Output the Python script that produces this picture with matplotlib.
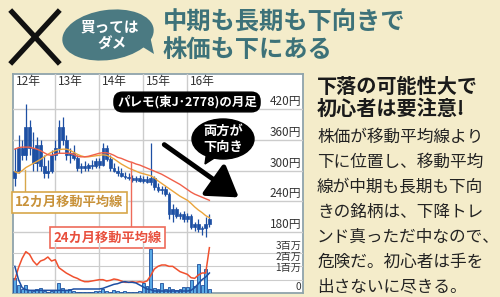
import matplotlib
matplotlib.use('Agg')
import matplotlib.pyplot as plt
from matplotlib.patches import Ellipse, Polygon, FancyArrowPatch
from matplotlib.transforms import Affine2D
import numpy as np

plt.rcParams['font.family'] = ['Noto Sans CJK JP', 'DejaVu Sans']

# ---- data (monthly, Jan 2012 - Jun 2016) ----
opens = [285, 300, 345, 330, 385, 345, 315, 350, 310, 295, 300, 330,
         345, 385, 360, 330, 335, 325, 305, 310, 305, 312, 310, 318,
         312, 345, 322, 305, 300, 295, 290, 288, 285, 282, 285, 280,
         283, 278, 285, 268, 262, 265, 255, 215, 225, 212, 215, 205,
         212, 190, 195, 185, 188, 195]
highs = [345, 370, 360, 430, 400, 375, 365, 360, 330, 320, 340, 360,
         400, 405, 370, 345, 350, 330, 315, 318, 315, 320, 325, 325,
         355, 350, 330, 315, 310, 305, 298, 295, 292, 290, 292, 290,
         290, 355, 290, 275, 270, 270, 258, 235, 228, 220, 222, 218,
         215, 200, 205, 192, 210, 215]
lows = [270, 295, 320, 320, 330, 300, 300, 300, 285, 285, 295, 320,
        335, 350, 320, 315, 320, 300, 295, 300, 300, 303, 305, 305,
        310, 318, 300, 298, 290, 288, 283, 282, 278, 278, 278, 275,
        275, 272, 262, 258, 255, 250, 205, 200, 208, 205, 200, 200,
        185, 182, 180, 175, 170, 190]
closes = [300, 345, 330, 385, 345, 315, 350, 310, 295, 300, 330, 345,
          385, 360, 330, 335, 325, 305, 310, 305, 312, 310, 318, 312,
          345, 322, 305, 300, 295, 290, 288, 285, 282, 285, 280, 283,
          278, 285, 268, 262, 265, 255, 215, 225, 212, 215, 205, 212,
          190, 195, 185, 188, 195, 205]
ma12 = [298, 295, 300, 306, 310, 314, 318, 322, 327, 332, 336, 339,
        341, 342, 342, 340, 336, 332, 329, 327, 327, 328, 329, 330,
        331, 330, 327, 323, 318, 313, 309, 305, 302, 299, 296, 294,
        292, 290, 286, 280, 275, 270, 265, 260, 255, 250, 246, 242,
        236, 229, 223, 218, 212, 208]
ma24 = [342, 345, 346, 346, 346, 344, 342, 339, 335, 331, 330, 332,
        334, 334, 334, 334, 332, 328, 327, 327, 328, 330, 332, 334,
        335, 335, 333, 330, 326, 324, 321, 318, 316, 313, 311, 308,
        305, 302, 299, 296, 293, 289, 285, 281, 277, 273, 268, 263,
        258, 254, 251, 248, 245, 242]
volume = [1.1, 0.6, 0.3, 0.6, 0.2, 0.15, 0.3, 0.35, 0.15, 0.1, 0.15, 0.2,
          0.75, 0.4, 0.2, 0.3, 0.15, 0.1, 0.1, 0.1, 0.1, 0.1, 0.15, 0.15,
          0.3, 0.15, 0.1, 0.2, 0.15, 0.1, 0.15, 0.1, 0.1, 0.1, 0.15, 0.75,
          0.5, 3.3, 0.4, 0.3, 0.75, 0.3, 0.45, 0.3, 0.2, 0.3, 0.45, 0.45,
          1.0, 0.5, 2.2, 0.6, 1.8, 0.3]
red_line = [1.0, 1.9, 2.6, 3.1, 2.9, 2.4, 2.1, 2.4, 2.5, 2.7, 2.4, 2.5,
            1.9, 1.7, 1.5, 1.35, 1.2, 1.1, 0.95, 0.85, 0.85, 0.9, 0.95, 1.0,
            1.0, 0.9, 0.95, 1.05, 1.0, 0.9, 0.8, 0.8, 0.85, 0.8, 0.85, 0.8,
            0.9, 1.3, 1.8, 2.0, 2.1, 2.1, 2.0, 2.0, 1.8, 1.6, 1.5, 1.4,
            1.15, 1.1, 1.35, 1.5, 1.5, 3.4]
blue_line = [2.0, 1.0, 0.4, 0.25, 0.2, 0.2, 0.2, 0.2, 0.2, 0.2, 0.2, 0.2,
             0.2, 0.2, 0.2, 0.2, 0.3, 0.3, 0.3, 0.3, 0.3, 0.3, 0.3, 0.3,
             0.35, 0.45, 0.55, 0.65, 0.7, 0.8, 0.85, 0.8, 0.8, 0.75, 0.6, 0.45,
             0.3, 0.25, 0.15, 0.15, 0.15, 0.15, 0.15, 0.15, 0.15, 0.15, 0.15, 0.15,
             0.2, 0.4, 0.7, 1.0, 1.2, 1.5]
year_labels = ['12年', '13年', '14年', '15年', '16年']
year_pos = [0.5, 12, 24, 36, 48]
price_ticks = [180, 240, 300, 360, 420]
vol_labels = ['3百万', '2百万', '1百万', '0']
vol_label_pos = [3.5, 2.7, 1.9, 0.45]

months = np.arange(1, len(closes) + 1)

W, H = 500, 297
fig = plt.figure(figsize=(5, 2.97), dpi=100)
fig.patch.set_facecolor('#f4ecca')
P = Affine2D().scale(1 / W, -1 / H).translate(0, 1) + fig.transFigure


def rect(x0, y0, x1, y1):
    return [x0 / W, 1 - y1 / H, (x1 - x0) / W, (y1 - y0) / H]


teal = '#3d7279'
candle_c = '#1d4fa3'
grid_c = '#cccccc'

# chart frame
frame = fig.add_axes(rect(13, 74, 303, 293))
frame.set_facecolor('white')
frame.set_xticks([])
frame.set_yticks([])
for s in frame.spines.values():
    s.set_color('#8fa3ab')
    s.set_linewidth(1.3)

ax = fig.add_axes(rect(13, 74, 303, 243))
vax = fig.add_axes(rect(13, 243, 303, 293))
for a in (ax, vax):
    a.set_facecolor('none')
    a.set_axis_off()
    a.set_xlim(0.5, 79.5)
ax.set_ylim(158.5, 489)
vax.set_ylim(0, 3.75)

# grid
for p in price_ticks:
    ax.axhline(p, color=grid_c, lw=1.0, zorder=0)
    ax.text(79, p + 2, f'{p}円', ha='right', va='bottom', fontsize=8.5, color='#333333')
for v in [1, 2, 3]:
    vax.axhline(v, color=grid_c, lw=0.8, zorder=0)
for x, lab in zip(year_pos, year_labels):
    if x > 1:
        ax.axvline(x, color=grid_c, lw=1.0, zorder=0)
        vax.axvline(x, color=grid_c, lw=1.0, zorder=0)
    ax.text(x + 0.8, 474, lab, ha='left', va='center', fontsize=8.5, color='#333333')
for y, lab in zip(vol_label_pos, vol_labels):
    vax.text(79, y, lab, ha='right', va='center', fontsize=7.3, color='#333333')

# candles
ax.vlines(months, lows, highs, color=candle_c, lw=0.9, zorder=3)
ax.bar(months, np.array(closes) - np.array(opens), bottom=opens, width=0.75,
       color=candle_c, edgecolor=candle_c, lw=0.5, zorder=3)
ax.plot(months, ma12, color='#eaa43c', lw=1.0, zorder=4)
ax.plot(months, ma24, color='#f0604a', lw=1.0, zorder=4)

# volume panel
vax.bar(months, volume, width=0.8, color='#5aaae6', edgecolor='#1c4f9c', lw=0.6, zorder=2)
vax.plot(months, red_line, color='#f0502e', lw=1.1, zorder=3)
vax.plot(months, blue_line, color='#1d4fa3', lw=1.1, zorder=3)

# MA labels with connectors
ax.plot([3.8, 3.8], [ma12[3] - 4, 258], color='#d7a74a', lw=1.0, zorder=4)
ax.text(15.9, 238, '12カ月移動平均線', ha='center', va='center', fontsize=9.5,
        fontweight='bold', color='#c8923a', zorder=6,
        bbox=dict(boxstyle='square,pad=0.25', fc='white', ec='#d7a74a', lw=1.2))
ax.plot([32.7, 32.7], [317, 185], color='#ee6b5a', lw=1.0, zorder=4)
ax.text(26.2, 169, '24カ月移動平均線', ha='center', va='center', fontsize=9.5,
        fontweight='bold', color='#e8503e', zorder=6, clip_on=False,
        bbox=dict(boxstyle='square,pad=0.25', fc='white', ec='#ee6b5a', lw=1.2))

# chart annotations
fig.text(187, 102, 'パレモ(東J･2778)の月足', transform=P, ha='center', va='center',
         fontsize=9, fontweight='bold', color='white',
         bbox=dict(boxstyle='round,pad=0.25,rounding_size=0.7', fc='black', ec='black'))
fig.add_artist(FancyArrowPatch((162, 143), (241, 199), transform=P,
                               arrowstyle='-|>,head_length=0.7,head_width=0.45',
                               mutation_scale=26, lw=3.5, color='black'))
fig.add_artist(Ellipse((223, 139), 62, 40, transform=P, fc='black', ec='black'))
fig.add_artist(Polygon([(207, 150), (219, 155), (205, 164)], closed=True,
                       transform=P, fc='black', ec='black'))
fig.text(223, 131, '両方が', transform=P, ha='center', va='center', fontsize=9.5,
         fontweight='bold', color='white')
fig.text(223, 147, '下向き', transform=P, ha='center', va='center', fontsize=9.5,
         fontweight='bold', color='white')

# header
fig.add_artist(plt.Line2D([12, 58], [12, 62], transform=P, color='#111111', lw=3.8))
fig.add_artist(plt.Line2D([58, 12], [12, 62], transform=P, color='#111111', lw=3.8))
fig.add_artist(Ellipse((108, 35), 92, 50, angle=-8, transform=P, fc='#4b7a82', ec='none'))
fig.add_artist(Polygon([(138, 44), (154, 54), (150, 36)], closed=True, transform=P,
                       fc='#4b7a82', ec='none'))
fig.text(110, 26, '買っては', transform=P, ha='center', va='center', fontsize=10.5,
         fontweight='bold', color='white')
fig.text(112, 44, 'ダメ', transform=P, ha='center', va='center', fontsize=10.5,
         fontweight='bold', color='white')
fig.text(163, 23, '中期も長期も下向きで', transform=P, ha='left', va='center',
         fontsize=17.5, fontweight='bold', color=teal)
fig.text(163, 50, '株価も下にある', transform=P, ha='left', va='center',
         fontsize=17.5, fontweight='bold', color=teal)

# right column text
fig.text(317, 86, '下落の可能性大で', transform=P, ha='left', va='center',
         fontsize=14.5, fontweight='bold', color='#1a1a1a')
fig.text(317, 108, '初心者は要注意!', transform=P, ha='left', va='center',
         fontsize=14.5, fontweight='bold', color='#1a1a1a')
body = ['株価が移動平均線より', '下に位置し、移動平均', '線が中期も長期も下向',
        'きの銘柄は、下降トレ', 'ンド真っただ中なので、', '危険だ。初心者は手を',
        '出さないに尽きる。']
for i, line in enumerate(body):
    fig.text(317, 137 + i * 25, line, transform=P, ha='left', va='center',
             fontsize=12, color='#222222')

fig.savefig('out.png', dpi=100, facecolor=fig.get_facecolor())
